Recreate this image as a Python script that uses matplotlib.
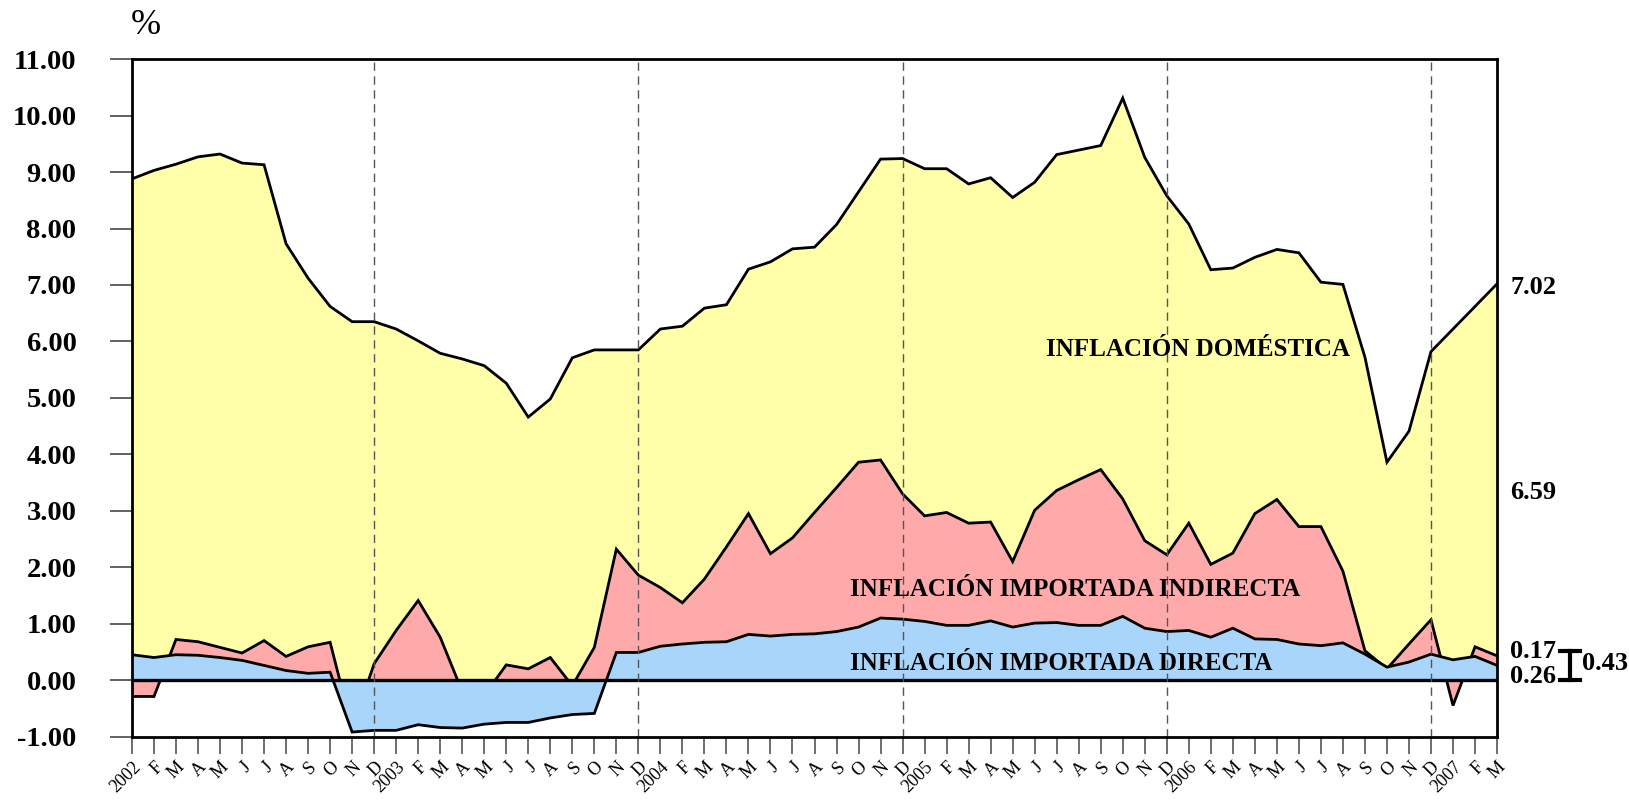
import matplotlib
matplotlib.use("Agg")
import matplotlib.pyplot as plt
import numpy as np

plt.rcParams['font.family'] = ['Liberation Serif', 'DejaVu Serif']

# ---- data (monthly, Jan 2002 .. Mar 2007) ----
years = ['2002', '2003', '2004', '2005', '2006', '2007']
months = ['F', 'M', 'A', 'M', 'J', 'J', 'A', 'S', 'O', 'N', 'D']

total = [8.88, 9.03, 9.14, 9.27, 9.32, 9.16, 9.13, 7.73, 7.12, 6.62,
         6.35, 6.35, 6.22, 6.01, 5.79, 5.69, 5.57, 5.26, 4.66, 4.98,
         5.71, 5.85, 5.85, 5.85, 6.22, 6.27, 6.59, 6.65, 7.28, 7.41,
         7.64, 7.67, 8.07, 8.65, 9.23, 9.24, 9.06, 9.06, 8.79, 8.90,
         8.55, 8.82, 9.31, 9.39, 9.47, 10.31, 9.26, 8.58, 8.08, 7.27,
         7.30, 7.49, 7.63, 7.57, 7.05, 7.01, 5.72, 3.86, 4.41, 5.82,
         6.22, 6.62, 7.02]

importada = [-0.29, -0.29, 0.72, 0.68, 0.58, 0.48, 0.70, 0.42, 0.59, 0.67,
             -0.85, 0.29, 0.88, 1.41, 0.76, -0.20, -0.27, 0.27, 0.20, 0.40,
             -0.10, 0.58, 2.32, 1.86, 1.64, 1.37, 1.79, 2.36, 2.95, 2.24,
             2.52, 2.97, 3.41, 3.86, 3.90, 3.30, 2.91, 2.97, 2.78, 2.80,
             2.10, 3.01, 3.36, 3.55, 3.73, 3.21, 2.47, 2.22, 2.78, 2.05,
             2.25, 2.95, 3.20, 2.72, 2.72, 1.93, 0.52, 0.20, 0.64, 1.07,
             -0.45, 0.59, 0.43]

directa = [0.45, 0.40, 0.45, 0.44, 0.40, 0.35, 0.26, 0.17, 0.12, 0.14,
           -0.92, -0.89, -0.89, -0.79, -0.84, -0.85, -0.78, -0.75, -0.75, -0.67,
           -0.61, -0.59, 0.49, 0.49, 0.60, 0.64, 0.67, 0.68, 0.81, 0.78,
           0.81, 0.82, 0.86, 0.94, 1.10, 1.08, 1.04, 0.97, 0.97, 1.05,
           0.94, 1.01, 1.02, 0.97, 0.97, 1.13, 0.92, 0.86, 0.88, 0.76,
           0.92, 0.73, 0.72, 0.64, 0.61, 0.66, 0.46, 0.23, 0.32, 0.46,
           0.36, 0.42, 0.26]

end_labels = ['7.02', '6.59', '0.17', '0.26', '0.43']

# tick labels
xlabels = []
for y in years:
    xlabels.append(y)
    xlabels.extend(months)
xlabels = xlabels[:len(total)]

x = np.arange(len(total))

YELLOW = '#FFFFAA'
PINK = '#FFAAAA'
BLUE = '#AAD5FA'

fig = plt.figure(figsize=(16.29, 8.0), dpi=100)
ax = fig.add_axes([0.081, 0.0793, 0.838, 0.8467])

ax.fill_between(x, 0, total, color=YELLOW, lw=0, zorder=1)
ax.plot(x, total, color='black', lw=2.0, zorder=2, solid_joinstyle='miter')
ax.fill_between(x, 0, importada, color=PINK, lw=0, zorder=3)
ax.plot(x, importada, color='black', lw=2.0, zorder=4, solid_joinstyle='miter')
ax.fill_between(x, 0, directa, color=BLUE, lw=0, zorder=5)
ax.plot(x, directa, color='black', lw=2.0, zorder=6, solid_joinstyle='miter')
ax.axhline(0, color='black', lw=2.4, zorder=7)

for xv in [11, 23, 35, 47, 59]:
    ax.axvline(xv, color='#555555', lw=1.0, ls=(0, (6, 4)), zorder=8)

ax.set_xlim(0, len(total) - 1)
ax.set_ylim(-1, 11)
ax.set_yticks(np.arange(-1, 12, 1))
ax.set_yticklabels(['%.2f' % v for v in np.arange(-1, 12, 1)],
                   fontsize=20.5, fontweight='bold')
ax.tick_params(axis='y', direction='out', length=16, width=1.3,
               color='#555555', pad=24)

ax.set_xticks(x)
ax.set_xticklabels(xlabels, rotation=45, ha='right', va='top',
                   rotation_mode='anchor', fontsize=13)
ax.tick_params(axis='x', direction='out', length=12, width=1.2,
               color='#555555', pad=4)

for s in ax.spines.values():
    s.set_linewidth(2.0)
    s.set_color('black')
    s.set_zorder(10)

# labels inside the chart
ax.text(41.5, 5.85, 'INFLACIÓN DOMÉSTICA', fontsize=18, fontweight='bold',
        ha='left', va='center', zorder=12)
ax.text(32.6, 1.60, 'INFLACIÓN IMPORTADA INDIRECTA', fontsize=18,
        fontweight='bold', ha='left', va='center', zorder=12)
ax.text(32.6, 0.30, 'INFLACIÓN IMPORTADA DIRECTA', fontsize=18,
        fontweight='bold', ha='left', va='center', zorder=12)

# right-hand value labels
kw = dict(fontsize=19, fontweight='bold', ha='left', va='center',
          clip_on=False, zorder=12)
ax.text(62.6, 6.95, end_labels[0], **kw)
ax.text(62.6, 3.33, end_labels[1], **kw)
ax.text(62.6, 0.50, end_labels[2], **kw)
ax.text(62.6, 0.07, end_labels[3], **kw)
ax.text(65.85, 0.29, end_labels[4], **kw)
ax.plot([65.31, 65.31], [0.0, 0.52], color='black', lw=3, clip_on=False)
ax.plot([64.86, 65.76], [0.52, 0.52], color='black', lw=3, clip_on=False)
ax.plot([64.86, 65.76], [0.0, 0.0], color='black', lw=3, clip_on=False)

fig.text(0.0896, 0.9675, '%', fontsize=26, ha='center', va='center')

fig.savefig('out.png', dpi=100)
